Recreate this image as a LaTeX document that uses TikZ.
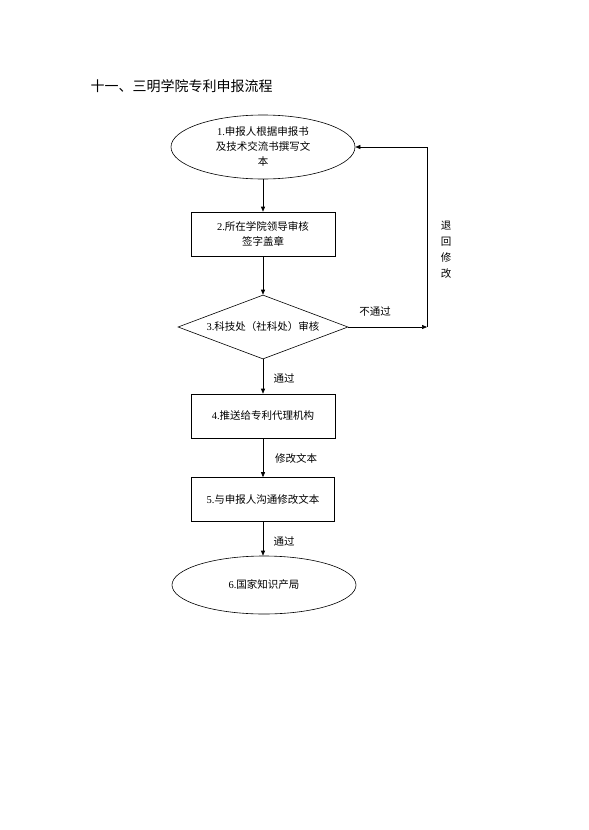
\documentclass[tikz,border=0pt]{standalone}
\usepackage{fontspec}
\setmainfont{Liberation Serif}
\newfontfamily\cjk{Noto Sans CJK SC}
\usetikzlibrary{shapes.geometric,arrows.meta}
\begin{document}
\begin{tikzpicture}[x=1pt,y=-1pt,
  every node/.style={font=\fontsize{10.5pt}{15pt}\selectfont},
  flowbox/.style={draw,line width=0.6pt,inner sep=0pt,minimum width=144pt,minimum height=44pt,align=center},
  oval/.style={draw,line width=0.6pt,ellipse,inner sep=0pt,minimum width=184pt,align=center},
  decide/.style={draw,line width=0.6pt,diamond,inner sep=0pt,minimum width=170pt,minimum height=64pt,aspect=2.6},
  arr/.style={draw,line width=0.6pt,-{Triangle[length=5pt,width=4pt]}},
  lbl/.style={font=\fontsize{10.5pt}{15pt}\selectfont\cjk}]
\useasboundingbox[fill=white] (0,0) rectangle (589,830);
\node[anchor=west,font=\fontsize{14pt}{16pt}\selectfont\cjk] (title) at (87,86) {十一、三明学院专利申报流程};
\node[oval,minimum height=64pt] (e1) at (263,147) {1.{\cjk 申报人根据申报书}\\{\cjk 及技术交流书撰写文}\\{\cjk 本}};
\node[flowbox,minimum height=44pt] (b2) at (263,234) {2.{\cjk 所在学院领导审核}\\{\cjk 签字盖章}};
\node[decide] (d3) at (263,327) {3.{\cjk 科技处（社科处）审核}};
\node[flowbox] (b4) at (263,416) {4.{\cjk 推送给专利代理机构}};
\node[flowbox,minimum width=143pt] (b5) at (263,499.5) {5.{\cjk 与申报人沟通修改文本}};
\node[oval,minimum height=58pt] (e6) at (264,585) {6.{\cjk 国家知识产局}};
\coordinate (ret) at (427,327);
\draw[arr] (e1.south) -- (b2.north);
\draw[arr] (b2.south) -- (d3.north);
\draw[arr] (d3.south) -- (b4.north);
\draw[arr] (b4.south) -- (b5.north);
\draw[arr] (b5.south) -- (b5.south |- e6.north);
\draw[arr] (d3.east) -- (ret);
\draw[arr] (ret) |- (e1.east);
\node[lbl] (l1) at (375,312) {不通过};
\node[lbl] (l2) at (284,378) {通过};
\node[lbl] (l3) at (296,458) {修改文本};
\node[lbl] (l4) at (284,541) {通过};
\node[lbl,align=center,font=\fontsize{10.5pt}{16pt}\selectfont\cjk] (l5) at (446,250) {退\\回\\修\\改};
\end{tikzpicture}
\end{document}
